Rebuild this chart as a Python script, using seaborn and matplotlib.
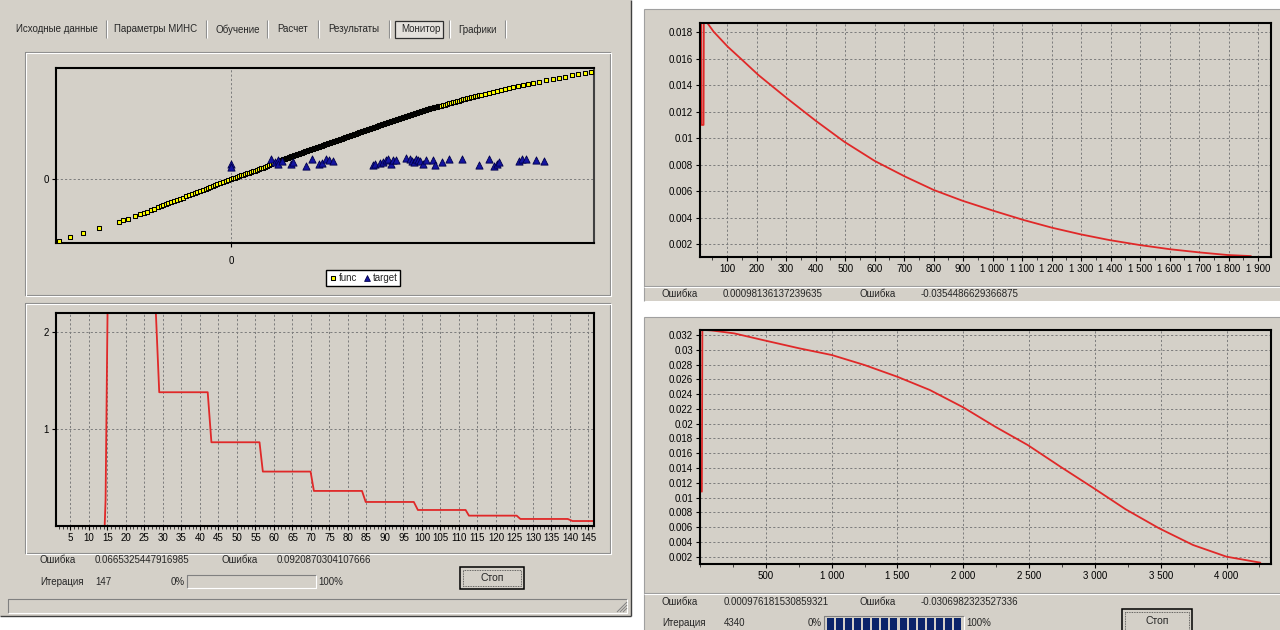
import matplotlib
matplotlib.use("Agg")
import matplotlib.pyplot as plt
import seaborn as sns
from matplotlib.patches import Rectangle
from matplotlib.ticker import MultipleLocator, FuncFormatter

W, H = 1280, 630
GRAY = '#d4d0c8'
RED = '#e02828'
GRID = '#7c7c7c'

# ---- top-left monitor: network output (func) and training targets ----
func_x = [-1.72, -1.61, -1.48, -1.32, -1.12, -1.08, -1.03, -0.96, -0.91,
          -0.87, -0.84, -0.80, -0.77, -0.73, -0.70, -0.68, -0.65, -0.63, -0.60,
          -0.57, -0.54, -0.51, -0.48, -0.45, -0.42, -0.39, -0.36, -0.34, -0.31,
          -0.28, -0.25, -0.23, -0.21, -0.18, -0.16, -0.14, -0.11, -0.08, -0.05,
          -0.03,
          0.00, 0.02, 0.04, 0.06, 0.08, 0.10, 0.12, 0.14, 0.16, 0.18,
          0.20, 0.22, 0.24, 0.26, 0.28, 0.30, 0.32, 0.34, 0.36, 0.38,
          0.40, 0.42, 0.44, 0.46, 0.48,
          0.50, 0.51, 0.52, 0.53, 0.54, 0.55, 0.56, 0.57, 0.58, 0.59,
          0.60, 0.61, 0.62, 0.63, 0.64, 0.65, 0.66, 0.67, 0.68, 0.69,
          0.70, 0.71, 0.72, 0.73, 0.74, 0.75, 0.76, 0.77, 0.78, 0.79,
          0.80, 0.81, 0.82, 0.83, 0.84, 0.85, 0.86, 0.87, 0.88, 0.89,
          0.90, 0.91, 0.92, 0.93, 0.94, 0.95, 0.96, 0.97, 0.98, 0.99,
          1.00, 1.01, 1.02, 1.03, 1.04, 1.05, 1.06, 1.07, 1.08, 1.09,
          1.10, 1.11, 1.12, 1.13, 1.14, 1.15, 1.16, 1.17, 1.18, 1.19,
          1.20, 1.21, 1.22, 1.23, 1.24, 1.25, 1.26, 1.27, 1.28, 1.29,
          1.30, 1.31, 1.32, 1.33, 1.34, 1.35, 1.36, 1.37, 1.38, 1.39,
          1.40, 1.41, 1.42, 1.43, 1.44, 1.45, 1.46, 1.47, 1.48, 1.49,
          1.50, 1.51, 1.52, 1.53, 1.54, 1.55, 1.56, 1.57, 1.58, 1.59,
          1.60, 1.61, 1.62, 1.63, 1.64, 1.65, 1.66, 1.67, 1.68, 1.69,
          1.70, 1.71, 1.72, 1.73, 1.74, 1.75, 1.76, 1.77, 1.78, 1.79,
          1.80, 1.81, 1.82, 1.83, 1.84, 1.85, 1.86, 1.87, 1.88, 1.89,
          1.90, 1.91, 1.92, 1.93, 1.94, 1.95, 1.96, 1.97, 1.98, 1.99,
          2.00, 2.01, 2.02, 2.03, 2.04, 2.05, 2.06, 2.07, 2.08, 2.09, 2.10,
          2.12, 2.14, 2.16, 2.18, 2.20, 2.22, 2.24, 2.26, 2.28, 2.30,
          2.32, 2.34, 2.36, 2.38, 2.40, 2.42, 2.44, 2.46, 2.48, 2.50,
          2.54, 2.58, 2.62, 2.66, 2.70, 2.74, 2.78, 2.82, 2.87, 2.92, 2.97,
          3.02, 3.08, 3.15, 3.22, 3.28, 3.34, 3.41, 3.47, 3.54, 3.60]
func_y = [-0.617, -0.580, -0.537, -0.484, -0.424, -0.410, -0.394, -0.364, -0.344,
          -0.333, -0.324, -0.308, -0.296, -0.280, -0.268, -0.260, -0.248, -0.240, -0.230,
          -0.220, -0.210, -0.195, -0.182, -0.170, -0.160, -0.150, -0.138, -0.130, -0.116,
          -0.104, -0.092, -0.085, -0.077, -0.065, -0.058, -0.050, -0.038, -0.027, -0.017,
          -0.010,
          0.000, 0.009, 0.017, 0.026, 0.033, 0.040, 0.047, 0.053, 0.060, 0.067,
          0.073, 0.080, 0.086, 0.093, 0.101, 0.109, 0.117, 0.125, 0.133, 0.142,
          0.150, 0.159, 0.167, 0.176, 0.184,
          0.191, 0.195, 0.199, 0.203, 0.207, 0.211, 0.214, 0.218, 0.222, 0.226,
          0.230, 0.233, 0.237, 0.240, 0.244, 0.247, 0.251, 0.254, 0.258, 0.261,
          0.265, 0.268, 0.272, 0.275, 0.279, 0.282, 0.286, 0.289, 0.293, 0.296,
          0.300, 0.303, 0.307, 0.310, 0.314, 0.317, 0.321, 0.324, 0.328, 0.331,
          0.335, 0.338, 0.342, 0.345, 0.349, 0.352, 0.356, 0.359, 0.363, 0.366,
          0.370, 0.373, 0.377, 0.380, 0.384, 0.387, 0.391, 0.394, 0.398, 0.401,
          0.405, 0.408, 0.412, 0.415, 0.419, 0.422, 0.426, 0.430, 0.434, 0.437,
          0.441, 0.444, 0.448, 0.451, 0.455, 0.458, 0.462, 0.465, 0.469, 0.472,
          0.476, 0.479, 0.483, 0.486, 0.490, 0.493, 0.497, 0.500, 0.504, 0.507,
          0.511, 0.514, 0.518, 0.521, 0.525, 0.528, 0.532, 0.536, 0.540, 0.543,
          0.546, 0.550, 0.553, 0.557, 0.560, 0.563, 0.566, 0.570, 0.573, 0.577,
          0.580, 0.583, 0.586, 0.590, 0.593, 0.597, 0.600, 0.603, 0.606, 0.610,
          0.613, 0.617, 0.620, 0.623, 0.626, 0.630, 0.633, 0.637, 0.640, 0.643,
          0.646, 0.650, 0.653, 0.657, 0.660, 0.663, 0.666, 0.670, 0.673, 0.677,
          0.680, 0.683, 0.686, 0.690, 0.693, 0.697, 0.700, 0.703, 0.706, 0.710,
          0.713, 0.715, 0.718, 0.720, 0.723, 0.725, 0.728, 0.730, 0.733, 0.735, 0.738,
          0.743, 0.748, 0.753, 0.759, 0.765, 0.771, 0.777, 0.782, 0.788, 0.794,
          0.800, 0.805, 0.810, 0.815, 0.820, 0.825, 0.830, 0.835, 0.840, 0.845,
          0.855, 0.864, 0.873, 0.883, 0.894, 0.905, 0.915, 0.926, 0.936, 0.946, 0.956,
          0.964, 0.975, 0.991, 1.003, 1.014, 1.026, 1.040, 1.053, 1.063, 1.073]

target_x = [0.00, 0.00, 0.397, 0.44, 0.473, 0.473, 0.507, 0.597, 0.617, 0.747,
            0.813, 0.883, 0.907, 0.95, 0.983, 1.023, 1.417, 1.44, 1.49, 1.517,
            1.55, 1.573, 1.597, 1.617, 1.65, 1.75, 1.79, 1.807, 1.833, 1.85,
            1.867, 1.89, 1.923, 1.95, 2.017, 2.043, 2.107, 2.183, 2.307, 2.48,
            2.583, 2.633, 2.657, 2.68, 2.883, 2.907, 2.947, 3.047, 3.13]
target_y = [0.153, 0.126, 0.200, 0.176, 0.193, 0.150, 0.183, 0.153, 0.176, 0.133,
            0.206, 0.153, 0.160, 0.200, 0.193, 0.186, 0.140, 0.153, 0.160, 0.176,
            0.193, 0.200, 0.153, 0.193, 0.193, 0.210, 0.200, 0.186, 0.176, 0.206,
            0.193, 0.183, 0.153, 0.193, 0.193, 0.146, 0.176, 0.203, 0.203, 0.146,
            0.203, 0.133, 0.153, 0.176, 0.186, 0.200, 0.206, 0.193, 0.186]

# ---- bottom-left monitor: error by iteration (first run) ----
run1_iter = [14.2, 14.5, 15.1, 27.8, 29.0, 42.1, 43.1, 56.1, 57.0, 69.9, 70.8,
             83.8, 84.8, 97.8, 98.9, 111.8, 112.7, 125.6, 126.6, 139.4, 140.7, 146.5]
run1_err = [-0.05, 0.28, 2.45, 2.45, 1.379, 1.379, 0.867, 0.867, 0.567, 0.567, 0.369,
            0.369, 0.256, 0.256, 0.174, 0.174, 0.116, 0.116, 0.082, 0.082, 0.061, 0.061]
run1_xticks = list(range(5, 146, 5))

# ---- top-right: error by iteration (second run) ----
run2_iter = [12, 13, 20, 21, 33, 54, 102, 151, 206, 303, 400, 497, 601, 704, 801,
             898, 1002, 1106, 1202, 1299, 1396, 1500, 1604, 1700, 1797, 1876]
run2_err = [0.0230, 0.0110, 0.0110, 0.0189, 0.0187, 0.01805, 0.01691, 0.01591,
            0.01477, 0.01301, 0.01132, 0.00973, 0.00827, 0.00709, 0.00608, 0.00527,
            0.00452, 0.00381, 0.00323, 0.00273, 0.00230, 0.00192, 0.00160, 0.00137,
            0.00117, 0.00109]

# ---- bottom-right: error by iteration (third run) ----
run3_iter = [14, 18, 87, 258, 500, 754, 1002, 1250, 1498, 1746, 2000, 2242, 2490,
             2738, 2993, 3234, 3488, 3746, 4000, 4257]
run3_err = [0.0108, 0.0327, 0.03262, 0.03223, 0.03123, 0.0302, 0.02929, 0.02794,
            0.02636, 0.02456, 0.02221, 0.0196, 0.01711, 0.01418, 0.01125, 0.00841,
            0.00584, 0.00358, 0.0020, 0.00119]
run3_xticks = [500, 1000, 1500, 2000, 2500, 3000, 3500, 4000]

tabs = ['Исходные данные', 'Параметры МИНС', 'Обучение', 'Расчет',
        'Результаты', 'Монитор', 'Графики']
tab_x = [16, 114, 215, 277, 328, 401, 458]
tab_sep = [106, 206, 267, 318, 389, 449, 505]

sns.set_style("white")
plt.rcParams['font.family'] = ['Liberation Sans', 'DejaVu Sans']
plt.rcParams['font.size'] = 7

fig = plt.figure(figsize=(12.8, 6.3), dpi=100)
fig.patch.set_facecolor('white')

# background layer in pixel coordinates for the window chrome
bg = fig.add_axes([0, 0, 1, 1])
bg.set_xlim(0, W)
bg.set_ylim(H, 0)
bg.axis('off')


def rect(x0, y0, x1, y1, fc, ec='none', lw=0, ls='-', z=1):
    bg.add_patch(Rectangle((x0, y0), x1 - x0, y1 - y0, facecolor=fc,
                           edgecolor=ec, lw=lw, linestyle=ls, zorder=z))


def seg(xs, ys, c, lw=0.8, z=2):
    bg.plot(xs, ys, color=c, lw=lw, solid_capstyle='butt', zorder=z)


def etched(x0, y0, x1, y1):
    seg([x0, x1, x1, x0, x0], [y0, y0, y1, y1, y0], '#8a8a8a')
    seg([x0 + 1, x1 + 1, x1 + 1, x0 + 1, x0 + 1], [y0 + 1, y0 + 1, y1 + 1, y1 + 1, y0 + 1], 'white')


def sunken(x0, y0, x1, y1, fc):
    rect(x0, y0, x1, y1, fc)
    seg([x0, x0, x1], [y1, y0, y0], '#808080')
    seg([x0, x1, x1], [y1, y1, y0], 'white')


def button(x0, y0, x1, y1, text):
    rect(x0, y0, x1, y1, GRAY, ec='black', lw=1.1)
    rect(x0 + 3, y0 + 3, x1 - 3, y1 - 3, 'none', ec='#404040', lw=0.6, ls=(0, (1, 1)))
    bg.text((x0 + x1) / 2, (y0 + y1) / 2, text, ha='center', va='center', fontsize=7.5)


def label(x, y, s, ha='left'):
    bg.text(x, y, s, ha=ha, va='center', fontsize=7)


# left window
rect(0, 0, 631, 616, GRAY)
seg([631, 631], [0, 616], '#404040', lw=1)
seg([0, 631], [616, 616], '#404040', lw=1)
for t, x in zip(tabs, tab_x):
    if t == 'Монитор':
        rect(395, 21, 443, 38, '#e4e1dc', ec='#303030', lw=0.9)
    bg.text(x, 29.5, t, ha='left', va='center', fontsize=7)
for x in tab_sep:
    seg([x, x], [20, 38], '#8a8a8a')
    seg([x + 1, x + 1], [20, 38], 'white')
etched(25, 52, 610, 295)
etched(25, 303, 610, 553)
label(40, 560, 'Ошибка')
label(95, 560, '0.0665325447916985')
label(221, 560, 'Ошибка')
label(277, 560, '0.0920870304107666')
label(40, 582, 'Итерация')
label(95, 582, '147')
label(185, 582, '0%', ha='right')
sunken(187, 575, 316, 588, GRAY)
label(318, 582, '100%')
button(460, 567, 524, 589, 'Стоп')
sunken(8, 599, 627, 613, GRAY)
for k in range(3):
    seg([617 + 3 * k, 627], [612, 602 + 3 * k], '#808080', lw=0.7)

# right top window
rect(644, 9, W, 301, GRAY)
seg([644, W], [9, 9], '#a0a0a0')
seg([644, 644], [9, 301], '#a0a0a0')
seg([644, W], [286, 286], '#9a9a9a')
seg([644, W], [287, 287], 'white')
label(662, 294, 'Ошибка')
label(723, 294, '0.00098136137239635')
label(860, 294, 'Ошибка')
label(921, 294, '-0.0354486629366875')

# right bottom window
rect(644, 317, W, H, GRAY)
seg([644, W], [317, 317], '#a0a0a0')
seg([644, 644], [317, H], '#a0a0a0')
seg([644, W], [593, 593], '#9a9a9a')
seg([644, W], [594, 594], 'white')
label(662, 602, 'Ошибка')
label(724, 602, '0.000976181530859321')
label(860, 602, 'Ошибка')
label(921, 602, '-0.0306982323527336')
label(662, 623, 'Итерация')
label(724, 623, '4340')
label(822, 623, '0%', ha='right')
sunken(824, 616, 964, 632, GRAY)
for i in range(15):
    rect(827 + i * 9.07, 618, 834 + i * 9.07, 631, '#0a246a')
label(966, 623, '100%')
button(1122, 609, 1192, 634, 'Стоп')


def chart(x0, y0, x1, y1):
    ax = fig.add_axes([x0 / W, 1 - y1 / H, (x1 - x0) / W, (y1 - y0) / H])
    ax.set_facecolor(GRAY)
    for side in ax.spines.values():
        side.set_color('black')
        side.set_linewidth(1.5)
    ax.tick_params(axis='both', which='major', labelsize=7, length=3, width=0.8,
                   pad=2, direction='out', colors='black', bottom=True, left=True)
    ax.tick_params(axis='both', which='minor', length=2, width=0.6,
                   direction='out', bottom=True)
    ax.grid(True, which='major', color=GRID, lw=0.7, linestyle=(0, (2.2, 2.2)))
    ax.set_axisbelow(True)
    return ax


thousands = FuncFormatter(lambda v, p: f"{int(round(v)):,}".replace(",", " "))
short = FuncFormatter(lambda v, p: f"{v:.3f}".rstrip('0'))

# top-left: func vs target
ax1 = chart(56, 68, 594, 243)
sns.scatterplot(x=func_x, y=func_y, marker='s', s=12, color='#ffff00',
                edgecolor='black', linewidth=0.75, ax=ax1, label='func', zorder=3)
sns.scatterplot(x=target_x, y=target_y, marker='^', s=27, color='#1414a0',
                edgecolor='#00004a', linewidth=0.6, ax=ax1, label='target', zorder=4)
ax1.set_xlim(-1.75, 3.63)
ax1.set_ylim(-0.637, 1.113)
ax1.set_xticks([0])
ax1.set_yticks([0])
ax1.tick_params(axis='x', pad=6)
ax1.spines['right'].set_color('#404040')
handles, names = ax1.get_legend_handles_labels()
if ax1.get_legend() is not None:
    ax1.get_legend().remove()
fig.legend(handles, names, loc='center', bbox_to_anchor=(363 / W, 1 - 278 / H),
           ncol=2, frameon=True, fancybox=False, edgecolor='black', facecolor='white',
           framealpha=1, fontsize=7, handletextpad=0.1, columnspacing=0.6,
           borderpad=0.3, handlelength=0.9, markerscale=0.8)

# bottom-left: error, first run
ax2 = chart(56, 313, 594, 526)
sns.lineplot(x=run1_iter, y=run1_err, color=RED, lw=1.3, estimator=None,
             sort=False, ax=ax2)
ax2.set_xlim(1.1, 146.5)
ax2.set_ylim(0.01, 2.19)
ax2.set_xticks(run1_xticks)
ax2.set_yticks([1, 2])
ax2.xaxis.set_minor_locator(MultipleLocator(1))

# top-right: error, second run
ax3 = chart(700, 23, 1271, 257)
sns.lineplot(x=run2_iter, y=run2_err, color=RED, lw=1.3, estimator=None,
             sort=False, ax=ax3)
ax3.set_xlim(8, 1944)
ax3.set_ylim(0.00102, 0.0187)
ax3.xaxis.set_major_locator(MultipleLocator(100))
ax3.xaxis.set_minor_locator(MultipleLocator(50))
ax3.xaxis.set_major_formatter(thousands)
ax3.yaxis.set_major_locator(MultipleLocator(0.002))
ax3.yaxis.set_major_formatter(short)

# bottom-right: error, third run
ax4 = chart(700, 330, 1271, 564)
sns.lineplot(x=run3_iter, y=run3_err, color=RED, lw=1.3, estimator=None,
             sort=False, ax=ax4)
ax4.set_xlim(0, 4338)
ax4.set_ylim(0.00101, 0.03268)
ax4.set_xticks(run3_xticks)
ax4.xaxis.set_minor_locator(MultipleLocator(250))
ax4.xaxis.set_major_formatter(thousands)
ax4.yaxis.set_major_locator(MultipleLocator(0.002))
ax4.yaxis.set_major_formatter(short)

for ax in (ax1, ax2, ax3, ax4):
    ax.set_xlabel('')
    ax.set_ylabel('')

fig.savefig('out.png', dpi=100)
